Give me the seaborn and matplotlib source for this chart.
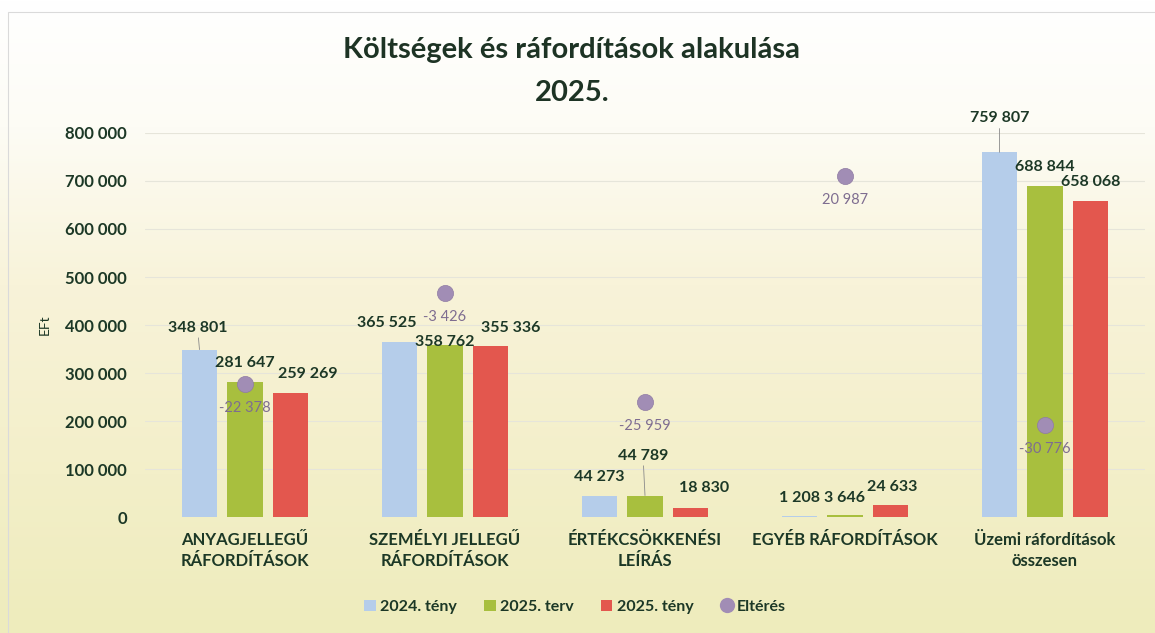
import numpy as np
import pandas as pd
import matplotlib.pyplot as plt
import seaborn as sns
from matplotlib.colors import LinearSegmentedColormap
from matplotlib.patches import Patch, Rectangle
from matplotlib.lines import Line2D

categories = ['ANYAGJELLEGŰ\nRÁFORDÍTÁSOK', 'SZEMÉLYI JELLEGŰ\nRÁFORDÍTÁSOK',
              'ÉRTÉKCSÖKKENÉSI\nLEÍRÁS', 'EGYÉB RÁFORDÍTÁSOK',
              'Üzemi ráfordítások\nösszesen']
series = ['2024. tény', '2025. terv', '2025. tény']
teny_2024 = [348801, 365525, 44273, 1208, 759807]
terv_2025 = [281647, 358762, 44789, 3646, 688844]
teny_2025 = [259269, 355336, 18830, 24633, 658068]
elteres = [-22378, -3426, -25959, 20987, -30776]
yticks = [0, 100000, 200000, 300000, 400000, 500000, 600000, 700000, 800000]

colors = ['#b5cdea', '#a8bf3e', '#e3574e']
dot_color = '#a18db5'
text_dark = '#1c3826'

df = pd.DataFrame({
    'kategoria': categories * 3,
    'sorozat': [s for s in series for _ in categories],
    'ertek': teny_2024 + terv_2025 + teny_2025,
})

def fmt(v):
    return f'{v:,}'.replace(',', ' ')

sns.set_style('white')
plt.rcParams['font.family'] = ['Lato', 'DejaVu Sans']

fig = plt.figure(figsize=(11.55, 6.33), dpi=100)

# background gradient (white -> cream -> pale yellow)
bg = fig.add_axes([0, 0, 1, 1], zorder=-10)
cmap = LinearSegmentedColormap.from_list(
    'bg', [(0, '#ffffff'), (0.2, '#fdfcf5'), (0.45, '#f8f3d9'),
           (0.75, '#f3efc9'), (1, '#eeecbc')])
bg.imshow(np.linspace(0, 1, 256).reshape(-1, 1), cmap=cmap, aspect='auto',
          extent=[0, 1, 0, 1], origin='upper')
bg.set_xlim(0, 1)
bg.set_ylim(0, 1)
bg.axis('off')
bg.add_patch(Rectangle((8 / 1155, -0.1), 1.2, 1 - 12 / 633 + 0.1,
                       fill=False, edgecolor='#dadada', lw=0.8))

ax = fig.add_axes([145 / 1155, 1 - 517 / 633, 1000 / 1155, 384 / 633])
ax.patch.set_alpha(0)

sns.barplot(data=df, x='kategoria', y='ertek', hue='sorozat',
            palette=colors, width=0.6825, gap=0.21, legend=False, ax=ax,
            saturation=1, linewidth=0, edgecolor='none', zorder=3)

ax.set_ylim(0, 800000)
ax.set_yticks(yticks)
ax.set_yticklabels([fmt(v) for v in yticks], fontsize=12,
                   fontweight='bold', color=text_dark)
ax.tick_params(axis='y', length=0, pad=13)
ax.tick_params(axis='x', length=0, pad=11)
ax.set_xticks(range(len(categories)))
ax.set_xticklabels(categories, fontsize=12, fontweight='bold',
                   color=text_dark, linespacing=1.35)
ax.set_xlabel('')
ax.set_ylabel('')
for y in yticks[1:]:
    ax.axhline(y, color='#e6e5da', lw=0.8, zorder=0)
for s in ax.spines.values():
    s.set_visible(False)

# bar value labels (pixel offsets of label centre from bar top)
offsets = {
    (0, 0): (-2, 22), (0, 2): (17, 19),
    (1, 0): (-13, 19), (1, 1): (0, 3), (1, 2): (20, 18),
    (2, 1): (-2, 40), (2, 2): (14, 20),
    (3, 0): (0, 18), (3, 1): (-1, 17), (3, 2): (2, 18),
    (4, 0): (0, 34),
}
leaders = {(0, 0), (2, 1), (4, 0)}
for si, cont in enumerate(ax.containers):
    for ci, bar in enumerate(cont):
        x = bar.get_x() + bar.get_width() / 2
        h = bar.get_height()
        dx, dy = offsets.get((ci, si), (0, 19))
        arrow = None
        if (ci, si) in leaders:
            arrow = dict(arrowstyle='-', color='#8a8a8a', lw=0.6,
                         shrinkA=0, shrinkB=0)
        ax.annotate(fmt(int(round(h))), xy=(x, h), xytext=(dx, dy),
                    textcoords='offset pixels', ha='center', va='center',
                    fontsize=11.5, fontweight='bold', color=text_dark,
                    arrowprops=arrow, zorder=5)

# eltérés on a hidden secondary axis
ax2 = ax.twinx()
sns.scatterplot(x=np.arange(len(categories)), y=elteres, ax=ax2,
                color=dot_color, s=135, edgecolor='#8f7ba3', linewidth=0.5,
                zorder=6)
ax2.set_ylim(-50000, 30000)
ax2.set_yticks([])
ax2.set_ylabel('')
for s in ax2.spines.values():
    s.set_visible(False)
for i, v in enumerate(elteres):
    ax2.annotate(fmt(v), xy=(i, v), xytext=(0, -24),
                 textcoords='offset pixels', ha='center', va='center',
                 fontsize=10.5, color='#7e6d90')
ax.set_xlim(-0.5, len(categories) - 0.5)

fig.text(45 / 1155, 1 - 325 / 633, 'EFt', rotation=90, ha='center',
         va='center', fontsize=10, color=text_dark)

fig.text(0.495, 1 - 50 / 633, 'Költségek és ráfordítások alakulása',
         ha='center', va='center', fontsize=21, fontweight='bold',
         color='#1d3324')
fig.text(0.495, 1 - 93 / 633, '2025.', ha='center', va='center',
         fontsize=21, fontweight='bold', color='#1d3324')

handles = [Patch(facecolor=c, edgecolor='none') for c in colors]
handles.append(Line2D([], [], marker='o', ls='none', markersize=11,
                      markerfacecolor=dot_color, markeredgecolor='none'))
fig.legend(handles, series + ['Eltérés'], loc='center',
           bbox_to_anchor=(0.498, 1 - 607 / 633), ncol=4, frameon=False,
           handlelength=0.7, handleheight=0.7, handletextpad=0.3,
           columnspacing=1.7,
           prop={'size': 11.5, 'weight': 'bold'}, labelcolor=text_dark)

fig.savefig('out.png', dpi=100)
